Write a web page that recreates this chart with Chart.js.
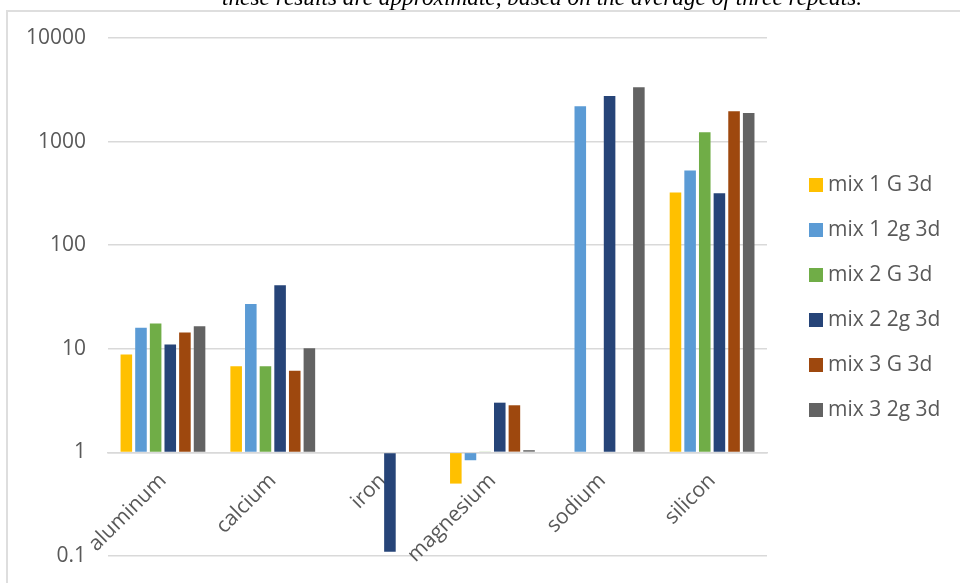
<!DOCTYPE html>
<html>
<head>
<meta charset="utf-8">
<script src="https://cdn.jsdelivr.net/npm/chart.js@4.4.1/dist/chart.umd.min.js"></script>
<style>
  html, body { margin: 0; padding: 0; background: #fff; overflow: hidden; }
  #box { position: relative; width: 960px; height: 583px; }
</style>
</head>
<body>
<div id="box"><canvas id="elements"></canvas></div>
<script>
document.addEventListener("DOMContentLoaded", function () {
  const elements = ["aluminum", "calcium", "iron", "magnesium", "sodium", "silicon"];
  const yTicks = [0.1, 1, 10, 100, 1000, 10000];
  const note = "these results are approximate, based on the average of three repeats.";

  // average concentrations per mix (null = nothing measured)
  const mix1G = [8.8, 6.8, null, 0.5, null, 323];
  const mix1g2 = [16.0, 27.1, null, 0.84, 2200, 527];
  const mix2G = [17.5, 6.8, null, 1.02, null, 1228];
  const mix2g2 = [11.0, 41, 0.11, 3.02, 2750, 318];
  const mix3G = [14.4, 6.15, null, 2.85, null, 1959];
  const mix3g2 = [16.5, 10.1, null, 1.05, 3340, 1885];

  const seriesNames = ["mix 1 G 3d", "mix 1 2g 3d", "mix 2 G 3d", "mix 2 2g 3d", "mix 3 G 3d", "mix 3 2g 3d"];
  const seriesData = [mix1G, mix1g2, mix2G, mix2g2, mix3G, mix3g2];
  const colors = ["#FFC000", "#5B9BD5", "#70AD47", "#264478", "#9E480E", "#636363"];

  const fontFamily = "'Open Sans', 'Liberation Sans', sans-serif";
  const font = { family: fontFamily, size: 21 };
  const grey = "#595959";

  // note line above the frame, plus the frame's left/top edges
  const frame = {
    id: "frame",
    beforeDraw(chart) {
      const c = chart.ctx;
      c.save();
      c.strokeStyle = "#dedede";
      c.lineWidth = 2;
      c.beginPath();
      c.moveTo(7, chart.height);
      c.lineTo(7, 11);
      c.lineTo(chart.width, 11);
      c.stroke();
      c.fillStyle = "#000";
      c.font = "italic 23.3px 'Liberation Serif', serif";
      c.textBaseline = "alphabetic";
      c.fillText(note, 222, 5);
      c.restore();
    },
  };

  // legend column to the right of the plot
  const sideLegend = {
    id: "sideLegend",
    afterDraw(chart) {
      const c = chart.ctx;
      const x = chart.chartArea.right + 42;
      c.save();
      c.font = "21px " + fontFamily;
      c.textBaseline = "middle";
      chart.data.datasets.forEach((ds, i) => {
        const y = 185 + i * 45;
        c.fillStyle = ds.backgroundColor;
        c.fillRect(x, y - 7, 14, 14);
        c.fillStyle = grey;
        c.fillText(ds.label, x + 19, y);
      });
      c.restore();
    },
  };

  const ctx = document.getElementById("elements").getContext("2d");
  new Chart(ctx, {
    type: "bar",
    data: {
      labels: elements,
      datasets: seriesNames.map((name, i) => ({
        label: name,
        data: seriesData[i],
        backgroundColor: colors[i],
        borderWidth: 0,
        base: 1,
        categoryPercentage: 0.8,
        barPercentage: 0.79,
      })),
    },
    plugins: [frame, sideLegend],
    options: {
      responsive: true,
      maintainAspectRatio: false,
      animation: false,
      layout: { padding: { left: 4, top: 38, bottom: 27, right: 193 } },
      scales: {
        x: {
          position: { y: 1 },
          grid: { display: false },
          border: { display: true, color: "#d9d9d9", width: 1.5 },
          ticks: { color: grey, font: font, minRotation: 45, maxRotation: 45, padding: 8 },
          afterFit: (s) => { s.paddingLeft = 0; s.paddingRight = 0; },
        },
        y: {
          type: "logarithmic",
          min: 0.1,
          max: 10000,
          border: { display: false },
          grid: { color: "#d9d9d9", lineWidth: 1.5, drawTicks: false },
          ticks: { color: grey, font: font, padding: 22, callback: (v) => String(v) },
          afterBuildTicks: (s) => { s.ticks = yTicks.map((v) => ({ value: v })); },
          afterFit: (s) => { s.paddingTop = 0; s.paddingBottom = 0; },
        },
      },
      plugins: {
        legend: { display: false },
        tooltip: { enabled: false },
      },
    },
  });
});
</script>
</body>
</html>
